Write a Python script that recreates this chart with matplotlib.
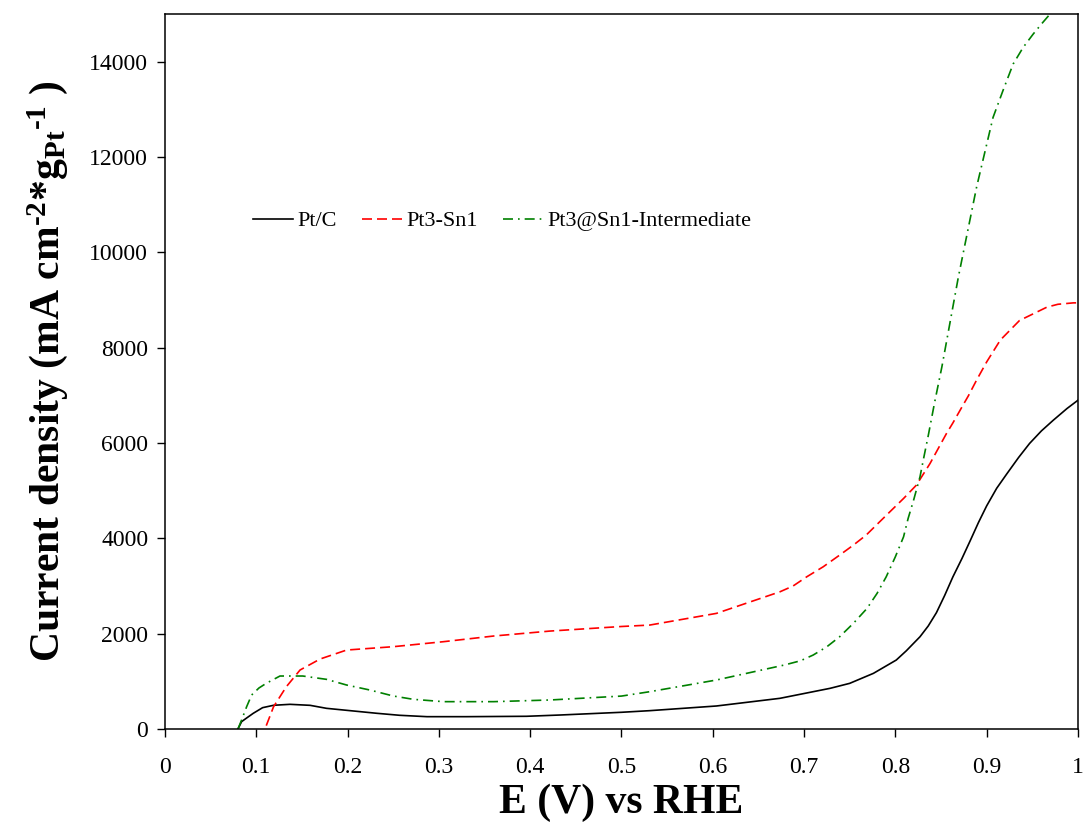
import matplotlib
matplotlib.use("Agg")
import matplotlib.pyplot as plt

plt.rcParams['font.family'] = ['Liberation Serif', 'DejaVu Serif']
plt.rcParams['mathtext.fontset'] = 'custom'
plt.rcParams['mathtext.rm'] = 'Liberation Serif:bold'
plt.rcParams['mathtext.it'] = 'Liberation Serif:bold'
plt.rcParams['mathtext.bf'] = 'Liberation Serif:bold'

# Pt/C
ptc_e = [0.08, 0.084, 0.0895, 0.0967, 0.107, 0.119, 0.137, 0.159, 0.177, 0.214,
         0.232, 0.257, 0.287, 0.33, 0.396, 0.433, 0.5, 0.531, 0.604, 0.6736,
         0.7286, 0.750, 0.776, 0.801, 0.812, 0.827, 0.836, 0.845, 0.854, 0.863,
         0.873, 0.882, 0.891, 0.900, 0.911, 0.922, 0.935, 0.947, 0.960, 0.973,
         0.988, 1.0]
ptc_j = [0, 154, 230, 328, 447, 497, 517, 496, 433, 363,
         329, 287, 258, 258, 266, 293, 350, 384, 482, 643,
         853, 957, 1167, 1446, 1640, 1935, 2160, 2440, 2800, 3190,
         3578, 3950, 4330, 4680, 5050, 5350, 5696, 5990, 6254, 6478,
         6723, 6897]

# Pt3-Sn1
ptsn_e = [0.111, 0.119, 0.133, 0.148, 0.170, 0.199, 0.25, 0.305, 0.36, 0.4217,
          0.5, 0.531, 0.604, 0.6736, 0.688, 0.703, 0.721, 0.739, 0.754, 0.768,
          0.781, 0.794, 0.809, 0.823, 0.838, 0.847, 0.856, 0.863, 0.873, 0.880,
          0.889, 0.900, 0.915, 0.936, 0.966, 0.978, 0.995, 1.0]
ptsn_j = [70, 467, 887, 1237, 1468, 1656, 1726, 1831, 1950, 2054,
          2150, 2180, 2425, 2878, 3000, 3193, 3403, 3648, 3857, 4067,
          4312, 4556, 4836, 5115, 5570, 5885, 6199, 6420, 6757, 6990,
          7320, 7700, 8160, 8570, 8850, 8910, 8940, 8940]

# Pt3@Sn1-Intermediate
inter_e = [0.08, 0.084, 0.0895, 0.095, 0.103, 0.111, 0.126, 0.151, 0.177, 0.199,
           0.2245, 0.25, 0.272, 0.305, 0.36, 0.4217, 0.5, 0.531, 0.604, 0.678,
           0.696, 0.710, 0.725, 0.739, 0.754, 0.769, 0.780, 0.790, 0.800, 0.809,
           0.814, 0.820, 0.827, 0.831, 0.836, 0.843, 0.851, 0.869, 0.889, 0.907,
           0.918, 0.929, 0.940, 0.951, 0.960, 0.969]
inter_j = [0, 189, 467, 713, 860, 958, 1111, 1111, 1041, 922,
           817, 692, 622, 573, 573, 608, 690, 782, 1027, 1340,
           1430, 1551, 1725, 1935, 2216, 2530, 2845, 3193, 3612, 4032,
           4417, 4801, 5290, 5680, 6150, 6850, 7600, 9480, 11370, 12830,
           13400, 13950, 14300, 14580, 14790, 14990]

xticks = [0, 0.1, 0.2, 0.3, 0.4, 0.5, 0.6, 0.7, 0.8, 0.9, 1]
xticklabels = ['0', '0.1', '0.2', '0.3', '0.4', '0.5', '0.6', '0.7', '0.8', '0.9', '1']
yticks = [0, 2000, 4000, 6000, 8000, 10000, 12000, 14000]

fig = plt.figure(figsize=(10.85, 8.25), dpi=100, facecolor='white')
ax = fig.add_axes([0.152, 0.1164, 0.8415, 0.8666])

ax.plot(ptc_e, ptc_j, color='black', lw=1.2, label='Pt/C')
ax.plot(ptsn_e, ptsn_j, color='red', lw=1.2, linestyle=(0, (6, 3)), label='Pt3-Sn1')
ax.plot(inter_e, inter_j, color='green', lw=1.2, linestyle=(0, (6, 3, 1, 3)),
        label='Pt3@Sn1-Intermediate')

ax.set_xlim(0, 1)
ax.set_ylim(0, 15000)
ax.set_xticks(xticks)
ax.set_xticklabels(xticklabels)
ax.set_yticks(yticks)
ax.tick_params(direction='out', length=6, width=1, labelsize=17,
               top=False, right=False)
ax.tick_params(axis='x', pad=14)
ax.tick_params(axis='y', pad=6)
for s in ax.spines.values():
    s.set_linewidth(1.1)

ax.set_xlabel('E (V) vs RHE', fontsize=30, fontweight='bold', labelpad=4)
ax.set_ylabel(r'Current density (mA cm$^{\text{-}2}$*g$_{Pt}$$^{\text{-}1}$ )',
              fontsize=30, fontweight='bold', labelpad=14)

ax.legend(loc='center left', bbox_to_anchor=(0.0964, 0.7105), ncol=3,
          frameon=False, fontsize=16, borderpad=0, borderaxespad=0,
          handlelength=1.8, handletextpad=0.22, columnspacing=1.1)

fig.savefig('out.png', dpi=100)
